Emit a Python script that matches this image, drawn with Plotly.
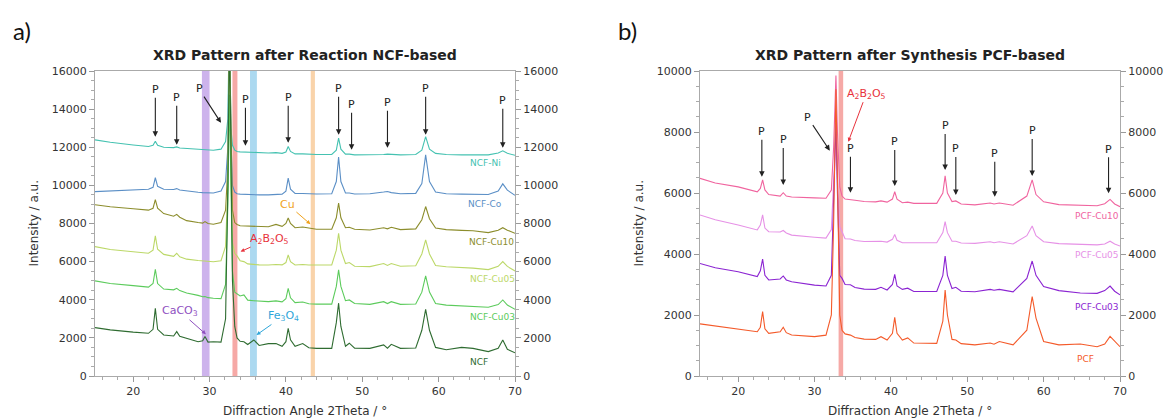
import plotly.graph_objects as go

W, H = 1171, 419

# ---------------- Panel a) data: NCF-based ----------------
two_theta_a = [15, 17, 20, 22, 22.6, 22.9, 23.2, 24, 25.3, 25.7, 26.1, 27, 28.5, 29.1, 29.4, 29.8,
               30.5, 31.5, 32.1, 32.4, 32.6, 32.8, 33.0, 33.3, 33.6, 34.0, 34.5, 35.0, 35.8, 36.5,
               37.7, 38.7, 39.5, 40.0, 40.3, 40.6, 41.2, 42.2, 43.0, 44.0, 46.0, 46.6, 46.9, 47.2,
               47.8, 48.3, 49.0, 51.0, 52.8, 53.3, 53.8, 55.0, 57.0, 57.8, 58.3, 58.8, 59.6, 61.0,
               63.0, 64.5, 66.5, 67.8, 68.4, 69.0, 70.0]

ncf_ni = [12390, 12260, 12120, 12040, 12100, 12320, 12100, 12000, 11980, 12020, 11960, 11930, 11880,
          11860, 11870, 11850, 11840, 11900, 12300, 13500, 19000, 13000, 12100, 11850, 11780, 11760,
          11750, 11720, 11720, 11700, 11700, 11720, 11680, 11750, 12040, 11780, 11650, 11650, 11620,
          11620, 11620, 11850, 12480, 11900, 11640, 11640, 11600, 11600, 11620, 11640, 11620, 11600,
          11620, 11850, 12560, 11900, 11680, 11620, 11600, 11600, 11600, 11700, 11810, 11680, 11580]

ncf_co = [9670, 9700, 9780, 9800, 9900, 10400, 9950, 9800, 9780, 9830, 9760, 9700, 9640, 9620, 9620,
          9610, 9600, 9700, 10200, 12000, 18500, 12500, 10000, 9650, 9560, 9540, 9530, 9510, 9500,
          9500, 9500, 9520, 9540, 9700, 10380, 9800, 9580, 9570, 9550, 9550, 9560, 10200, 11480,
          10200, 9600, 9600, 9550, 9560, 9650, 9680, 9620, 9560, 9580, 10100, 11600, 10200, 9650,
          9560, 9540, 9530, 9520, 9700, 10080, 9750, 9480]

ncf_cu10 = [8980, 8880, 8770, 8700, 8800, 9250, 8800, 8520, 8380, 8480, 8330, 8150, 8050, 8020, 8100,
            8000, 7960, 8050, 8700, 11000, 18000, 12000, 8700, 8050, 7950, 7880, 7870, 7850, 7840,
            7820, 7830, 7950, 7850, 8000, 8290, 8000, 7780, 7820, 7750, 7700, 7700, 8300, 9070, 8300,
            7780, 7800, 7700, 7660, 7780, 7720, 7800, 7680, 7720, 8200, 8890, 8250, 7760, 7680, 7640,
            7620, 7520, 7650, 7780, 7650, 7490]

ncf_cu05 = [6790, 6640, 6520, 6440, 6600, 7350, 6650, 6380, 6280, 6440, 6250, 6130, 6060, 6040, 6060,
            6010, 5990, 6050, 6800, 10000, 17500, 11000, 7000, 6440, 6300, 6050, 6000, 5880, 5850,
            5830, 5820, 5850, 5830, 5950, 6350, 6000, 5820, 5850, 5820, 5820, 5830, 6600, 7490, 6600,
            5900, 5950, 5760, 5740, 5900, 5800, 5900, 5760, 5780, 6400, 7140, 6400, 5800, 5730, 5700,
            5660, 5580, 5750, 6000, 5750, 5510]

ncf_cu03 = [4990, 4850, 4740, 4660, 4850, 5600, 4850, 4560, 4520, 4600, 4480, 4350, 4230, 4160, 4170,
            4110, 4080, 4060, 4800, 9000, 14750, 10000, 5500, 4400, 4300, 4200, 4250, 3980, 3950,
            3920, 3900, 3940, 3890, 4050, 4600, 4100, 3850, 3880, 3790, 3770, 3770, 4700, 5570, 4700,
            3950, 3990, 3800, 3760, 3900, 3800, 3900, 3760, 3780, 4400, 5250, 4400, 3800, 3720, 3680,
            3650, 3610, 3750, 3990, 3720, 3500]

ncf = [2540, 2420, 2300, 2240, 2450, 3550, 2450, 2150, 2100, 2330, 2080, 1980, 1800, 1850, 2070, 1780,
       1800, 1780, 3000, 10000, 18000, 12000, 5000, 2600, 2000, 1820, 1800, 1650, 1890, 1600, 1700,
       1700, 1560, 1800, 2500, 1900, 1560, 1700, 1480, 1450, 1450, 2800, 3820, 2600, 1560, 1720,
       1460, 1450, 1630, 1460, 1660, 1450, 1470, 2400, 3500, 2400, 1500, 1380, 1500, 1450, 1280,
       1450, 1890, 1400, 1220]

names_a = ["NCF-Ni", "NCF-Co", "NCF-Cu10", "NCF-Cu05", "NCF-Cu03", "NCF"]
series_a = [ncf_ni, ncf_co, ncf_cu10, ncf_cu05, ncf_cu03, ncf]
colors_a = ["#45c2b1", "#5b8fc6", "#8c8d2c", "#bcd868", "#5ccb5c", "#2f6c31"]
label_x_a = [66.1, 66.1, 66.9, 67.0, 67.0, 65.3]
label_y_a = [11165, 9013, 7049, 5076, 3113, 719]

# reference bands (2Theta ranges)
band_lo_a = [29.0, 33.0, 35.3, 43.25]
band_hi_a = [30.0, 33.65, 36.2, 43.8]
band_col_a = ["#cdb3ec", "#f6a9a6", "#acd9f0", "#f9d3aa"]

# perovskite "P" markers: (tip 2Theta, tip intensity, text dx px, text dy px)
p_x_a = [22.9, 25.7, 31.5, 34.7, 40.3, 46.9, 48.6, 53.3, 58.3, 68.4]
p_y_a = [12545, 12125, 13280, 12073, 12230, 12650, 11863, 11968, 12650, 11968]
p_ax_a = [0, 0, -22, 0, 0, 0, 0, 0, 0, 0]
p_ay_a = [-47, -47, -34, -46, -45, -46, -45, -45, -46, -47]

# phase annotations
ph_text_a = ["A<sub>2</sub>B<sub>2</sub>O<sub>5</sub>", "CaCO<sub>3</sub>", "Fe<sub>3</sub>O<sub>4</sub>", "Cu"]
ph_x_a = [34.06, 29.52, 36.15, 43.21]
ph_y_a = [6525, 2189, 2152, 7963]
ph_ax_a = [29, -26, 27, -23]
ph_ay_a = [-13, -23, -19, -20]
ph_col_a = ["#e8323c", "#8e4fbf", "#2fa6d9", "#f0a21c"]

# ---------------- Panel b) data: PCF-based ----------------
two_theta_b = [15, 17, 20, 22.5, 22.9, 23.2, 23.5, 24, 25.5, 25.9, 26.3, 27, 30, 31.5, 32.2, 32.5,
               32.8, 33.0, 33.3, 33.6, 34.0, 34.7, 35.3, 36.5, 38.0, 38.7, 39.5, 40.2, 40.5, 40.8,
               41.5, 42.2, 43.0, 46.0, 46.8, 47.1, 47.4, 48.0, 48.5, 49.2, 51.0, 53.0, 53.5, 54.2,
               56.0, 57.8, 58.5, 59.0, 60.0, 62.0, 64.8, 67.0, 68.0, 68.7, 69.3, 70.0]

pcf_cu10 = [6480, 6330, 6200, 6040, 6150, 6430, 6100, 5950, 5900, 6010, 5900, 5870, 5840, 5830, 6100,
            7500, 9850, 8000, 6200, 5900, 5800, 5790, 5760, 5720, 5710, 5740, 5700, 5800, 6040, 5800,
            5680, 5700, 5660, 5660, 6000, 6560, 6000, 5720, 5740, 5640, 5610, 5670, 5640, 5670, 5600,
            5900, 6430, 5950, 5710, 5620, 5600, 5580, 5650, 5790, 5640, 5550]

pcf_cu05 = [5280, 5120, 4950, 4790, 4950, 5280, 4850, 4730, 4720, 4770, 4690, 4620, 4550, 4520, 4800,
            6500, 8000, 6500, 4900, 4730, 4500, 4490, 4440, 4410, 4400, 4420, 4390, 4480, 4640, 4450,
            4370, 4380, 4370, 4370, 4700, 5060, 4700, 4420, 4420, 4360, 4350, 4400, 4370, 4400, 4330,
            4600, 4920, 4600, 4400, 4340, 4320, 4300, 4330, 4420, 4330, 4260]

pcf_cu03 = [3690, 3550, 3420, 3260, 3450, 3830, 3300, 3150, 3180, 3280, 3150, 3090, 2980, 2950, 3300,
            6000, 8300, 6000, 3300, 3200, 3000, 2990, 2900, 2850, 2840, 2910, 2820, 3000, 3330, 2950,
            2840, 2880, 2770, 2770, 3300, 3930, 3300, 2870, 2910, 2780, 2760, 2840, 2810, 2840, 2760,
            3200, 3770, 3300, 2930, 2800, 2720, 2710, 2800, 2950, 2780, 2660]

pcf = [1710, 1640, 1560, 1450, 1600, 2110, 1550, 1400, 1450, 1600, 1420, 1345, 1290, 1340, 2000, 5000,
       9400, 6000, 2000, 1500, 1380, 1340, 1260, 1210, 1200, 1290, 1180, 1400, 1920, 1400, 1180, 1250,
       1080, 1070, 1800, 2820, 2000, 1200, 1180, 1060, 1020, 1080, 1040, 1130, 1020, 1500, 2600, 1900,
       1130, 1020, 1050, 960, 1050, 1300, 1150, 960]

names_b = ["PCF-Cu10", "PCF-Cu05", "PCF-Cu03", "PCF"]
series_b = [pcf_cu10, pcf_cu05, pcf_cu03, pcf]
colors_b = ["#f0649f", "#e691e6", "#8b24d2", "#f45a2a"]
label_x_b = [66.95, 66.95, 66.95, 65.42]
label_y_b = [5246, 3968, 2253, 548]

band_lo_b = [33.15]
band_hi_b = [33.75]
band_col_b = ["#f6a9a6"]

p_x_b = [23.1, 25.9, 32.0, 34.7, 40.5, 47.1, 48.5, 53.6, 58.5, 68.5]
p_y_b = [6535, 6263, 7388, 6010, 6230, 6755, 5935, 5879, 6558, 5991]
p_ax_b = [0, 0, -22, 0, 0, 0, 0, 0, 0, 0]
p_ay_b = [-45, -45, -33, -44, -44, -44, -46, -43, -45, -44]

ph_text_b = ["A<sub>2</sub>B<sub>2</sub>O<sub>5</sub>"]
ph_x_b = [34.42]
ph_y_b = [7683]
ph_ax_b = [18]
ph_ay_b = [-48]
ph_col_b = ["#e8323c"]

titles = ["XRD Pattern after Reaction NCF-based", "XRD Pattern after Synthesis PCF-based"]
panel_tags = ["a)", "b)"]
ymax = [16000, 10000]

# ---------------- figure ----------------
FONT = "DejaVu Sans"
fig = go.Figure()

panels = [
    dict(x=two_theta_a, series=series_a, names=names_a, colors=colors_a, lx=label_x_a, ly=label_y_a,
         blo=band_lo_a, bhi=band_hi_a, bcol=band_col_a, px=p_x_a, py=p_y_a, pax=p_ax_a, pay=p_ay_a,
         ht=ph_text_a, hx=ph_x_a, hy=ph_y_a, hax=ph_ax_a, hay=ph_ay_a, hcol=ph_col_a,
         xa="x", ya="y", yr="y3"),
    dict(x=two_theta_b, series=series_b, names=names_b, colors=colors_b, lx=label_x_b, ly=label_y_b,
         blo=band_lo_b, bhi=band_hi_b, bcol=band_col_b, px=p_x_b, py=p_y_b, pax=p_ax_b, pay=p_ay_b,
         ht=ph_text_b, hx=ph_x_b, hy=ph_y_b, hax=ph_ax_b, hay=ph_ay_b, hcol=ph_col_b,
         xa="x2", ya="y2", yr="y4"),
]

shapes = []
annotations = []
for P in panels:
    for name, ys, col in zip(P["names"], P["series"], P["colors"]):
        fig.add_trace(go.Scatter(x=P["x"], y=ys, mode="lines", name=name,
                                 line=dict(color=col, width=1.1), xaxis=P["xa"], yaxis=P["ya"],
                                 showlegend=False, cliponaxis=True))
    # empty trace so the right-hand tick axis is drawn
    fig.add_trace(go.Scatter(x=[], y=[], xaxis=P["xa"], yaxis=P["yr"], showlegend=False))
    for lo, hi, c in zip(P["blo"], P["bhi"], P["bcol"]):
        shapes.append(dict(type="rect", xref=P["xa"], yref=P["ya"] + " domain", x0=lo, x1=hi,
                           y0=0, y1=1, fillcolor=c, line=dict(width=0), layer="below"))
    for name, col, x, y in zip(P["names"], P["colors"], P["lx"], P["ly"]):
        annotations.append(dict(x=x, y=y, xref=P["xa"], yref=P["ya"], text=name, showarrow=False,
                                xanchor="center", yanchor="middle",
                                font=dict(family=FONT, size=9, color=col)))
    for x, y, ax, ay in zip(P["px"], P["py"], P["pax"], P["pay"]):
        annotations.append(dict(x=x, y=y, xref=P["xa"], yref=P["ya"], text="P", showarrow=True,
                                ax=ax, ay=ay, arrowhead=2, arrowsize=1, arrowwidth=1.1,
                                arrowcolor="#222", font=dict(family=FONT, size=11, color="#222")))
    for t, x, y, ax, ay, c in zip(P["ht"], P["hx"], P["hy"], P["hax"], P["hay"], P["hcol"]):
        annotations.append(dict(x=x, y=y, xref=P["xa"], yref=P["ya"], text=t, showarrow=True,
                                ax=ax, ay=ay, arrowhead=2, arrowsize=0.8, arrowwidth=1,
                                arrowcolor=c, font=dict(family=FONT, size=11, color=c)))

# pixel geometry of the plot areas
px_l = [95, 700]
px_r = [515, 1120]
py_t, py_b = 71, 376
xdom = [[px_l[i] / W, px_r[i] / W] for i in range(2)]
ydom = [1 - py_b / H, 1 - py_t / H]

def paper_text(x, y, text, font, angle=0):
    return dict(x=x / W, y=1 - y / H, xref="paper", yref="paper", text=text, showarrow=False,
                xanchor="center", yanchor="middle", textangle=angle, font=font)

for i in range(2):
    cx = (px_l[i] + px_r[i]) / 2
    annotations.append(paper_text(cx, 55, "<b>" + titles[i] + "</b>",
                                  dict(family=FONT, size=14, color="#222")))
    annotations.append(paper_text(cx, 411, "Diffraction Angle 2Theta / °",
                                  dict(family=FONT, size=12, color="#333")))
    annotations.append(paper_text(px_l[i] - 62, (py_t + py_b) / 2, "Intensity / a.u.",
                                  dict(family=FONT, size=12, color="#333"), angle=-90))
    annotations.append(paper_text(px_l[i] - 73, 31, panel_tags[i],
                                  dict(family="Lato", size=24, color="#111")))

common_x = dict(range=[15, 70], dtick=10, tick0=0, ticks="outside", ticklen=5, tickcolor="#999",
                showline=True, linecolor="#aaa", linewidth=1, mirror=True, showgrid=False, zeroline=False,
                automargin=False, tickfont=dict(family=FONT, size=11, color="#333"),
                minor=dict(dtick=2, ticks="outside", ticklen=3, tickcolor="#aaa"))

def yax(i, side, **kw):
    d = dict(range=[0, ymax[i]], dtick=2000, tickformat="d", ticks="outside", ticklen=5,
             tickcolor="#999", showline=True, linecolor="#aaa", linewidth=1, showgrid=False,
             zeroline=False, automargin=False, tickfont=dict(family=FONT, size=11, color="#333"),
             side=side, minor=dict(dtick=500, ticks="outside", ticklen=3, tickcolor="#aaa"))
    d.update(kw)
    return d

fig.update_layout(
    width=W, height=H,
    margin=dict(l=0, r=0, t=0, b=0),
    plot_bgcolor="white", paper_bgcolor="white",
    xaxis=dict(domain=xdom[0], anchor="y", **common_x),
    xaxis2=dict(domain=xdom[1], anchor="y2", **common_x),
    yaxis=yax(0, "left", domain=ydom, anchor="x", mirror=True),
    yaxis2=yax(1, "left", domain=ydom, anchor="x2", mirror=True),
    yaxis3=yax(0, "right", overlaying="y", anchor="x"),
    yaxis4=yax(1, "right", overlaying="y2", anchor="x2"),
    shapes=shapes,
    annotations=annotations,
    showlegend=False,
)

fig.write_html("out.html")
